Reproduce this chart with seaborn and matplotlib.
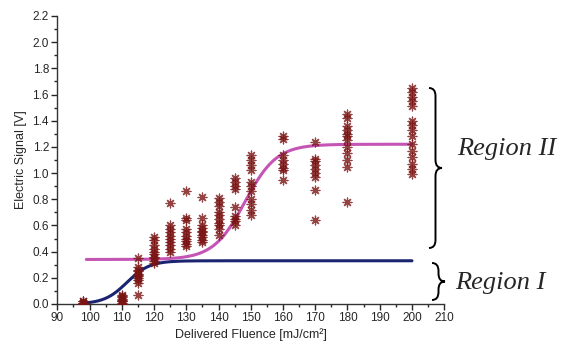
import numpy as np
import pandas as pd
import seaborn as sns
import matplotlib
matplotlib.use("Agg")
import matplotlib.pyplot as plt
from matplotlib.path import Path
from matplotlib.patches import PathPatch
from matplotlib.ticker import MultipleLocator

# measured points: fluence -> electric signal values
fluence_levels = [98, 110, 115, 120, 125, 130, 135, 140, 145, 150, 160, 170, 180, 200]
signal_values = [
    [0.0, 0.01, 0.02, 0.0, 0.01, 0.02],
    [0.0, 0.01, 0.02, 0.03, 0.04, 0.05, 0.06, 0.07, 0.02, 0.0],
    [0.35, 0.28, 0.26, 0.25, 0.23, 0.22, 0.21, 0.2, 0.18, 0.16, 0.07],
    [0.51, 0.49, 0.45, 0.42, 0.4, 0.38, 0.36, 0.35, 0.33, 0.31],
    [0.77, 0.6, 0.57, 0.55, 0.52, 0.5, 0.47, 0.45, 0.42, 0.4],
    [0.86, 0.66, 0.64, 0.57, 0.55, 0.52, 0.5, 0.48, 0.46, 0.44],
    [0.82, 0.66, 0.6, 0.58, 0.56, 0.55, 0.53, 0.51, 0.49, 0.47],
    [0.81, 0.78, 0.75, 0.7, 0.68, 0.65, 0.62, 0.6, 0.57, 0.53],
    [0.96, 0.93, 0.9, 0.88, 0.74, 0.67, 0.65, 0.63, 0.6],
    [1.14, 1.1, 1.06, 1.02, 0.93, 0.9, 0.86, 0.8, 0.76, 0.72, 0.68],
    [1.28, 1.26, 1.14, 1.1, 1.07, 1.04, 1.02, 0.95],
    [1.24, 1.11, 1.09, 1.06, 1.03, 1.0, 0.97, 0.87, 0.64],
    [1.45, 1.42, 1.36, 1.33, 1.3, 1.28, 1.25, 1.2, 1.15, 1.1, 1.05, 0.78],
    [1.65, 1.62, 1.58, 1.55, 1.51, 1.4, 1.37, 1.33, 1.28, 1.22, 1.17, 1.12, 1.07, 1.03, 0.99],
]

# Boltzmann fit parameters (A1, A2, x0, dx)
fit_region1 = (0.0, 0.33, 111.6, 3.5)
fit_region2 = (0.34, 1.22, 148.2, 4.9)
fit_range = (99, 200)

rows = []
for xv, ys in zip(fluence_levels, signal_values):
    for yv in ys:
        rows.append((xv, yv))
pts = pd.DataFrame(rows, columns=['fluence', 'signal'])


def boltzmann(x, p):
    a1, a2, x0, dx = p
    return a2 + (a1 - a2) / (1 + np.exp((x - x0) / dx))


xf = np.linspace(fit_range[0], fit_range[1], 400)
fits = pd.DataFrame({'fluence': xf,
                     'r1': boltzmann(xf, fit_region1),
                     'r2': boltzmann(xf, fit_region2)})

sns.set_style('ticks')
plt.rcParams['font.family'] = ['Liberation Sans', 'DejaVu Sans']

fig = plt.figure(figsize=(5.63, 3.47), dpi=100)
ax = fig.add_axes([0.1018, 0.124, 0.6872, 0.830])

sns.lineplot(data=fits, x='fluence', y='r1', color='#1b2470', lw=2.2, ax=ax)
sns.lineplot(data=fits, x='fluence', y='r2', color='#c455b4', lw=2.2, ax=ax)
sns.scatterplot(data=pts, x='fluence', y='signal', marker=(8, 2, 0), s=40,
                color='#7a1414', edgecolor='#7a1414', linewidth=0.9,
                alpha=0.8, ax=ax, zorder=3)

ax.set_xlim(90, 210)
ax.set_ylim(0, 2.2)
ax.xaxis.set_major_locator(MultipleLocator(10))
ax.xaxis.set_minor_locator(MultipleLocator(5))
ax.yaxis.set_major_locator(MultipleLocator(0.2))
ax.yaxis.set_minor_locator(MultipleLocator(0.1))
ax.yaxis.set_major_formatter(matplotlib.ticker.FormatStrFormatter('%.1f'))
ax.tick_params(which='major', direction='out', length=4, width=1, labelsize=8.5, pad=2)
ax.tick_params(which='minor', direction='out', length=2.5, width=1)
sns.despine(ax=ax)
for s in ['left', 'bottom']:
    ax.spines[s].set_linewidth(1)
    ax.spines[s].set_color('#333333')
ax.set_xlabel('Delivered Fluence [mJ/cm²]', fontsize=9, labelpad=3)
ax.set_ylabel('Electric Signal [V]', fontsize=9, labelpad=4)


def brace(fig, x, ytop, ybot, w):
    # brace drawn in figure pixels, tip pointing right
    W, H = fig.bbox.width, fig.bbox.height
    ym = (ytop + ybot) / 2
    r = 8
    v = [(x, ytop), (x + w / 2, ytop), (x + w / 2, ytop + r),
         (x + w / 2, ym - r),
         (x + w / 2, ym), (x + w, ym),
         (x + w / 2, ym), (x + w / 2, ym + r),
         (x + w / 2, ybot - r),
         (x + w / 2, ybot), (x, ybot)]
    c = [Path.MOVETO, Path.CURVE3, Path.CURVE3, Path.LINETO,
         Path.CURVE3, Path.CURVE3, Path.CURVE3, Path.CURVE3,
         Path.LINETO, Path.CURVE3, Path.CURVE3]
    v = [(a / W, 1 - b / H) for a, b in v]
    fig.patches.append(PathPatch(Path(v, c), transform=fig.transFigure,
                                 fill=False, lw=1.4, color='black'))


brace(fig, 429, 88, 248, 13)
brace(fig, 432, 263, 300, 13)
fig.text(457 / 563, 1 - 149 / 347, 'Region II', fontsize=19, style='italic',
         family='Liberation Serif', va='center', ha='left')
fig.text(455 / 563, 1 - 283 / 347, 'Region I', fontsize=19, style='italic',
         family='Liberation Serif', va='center', ha='left')

fig.savefig('out.png', dpi=100)
